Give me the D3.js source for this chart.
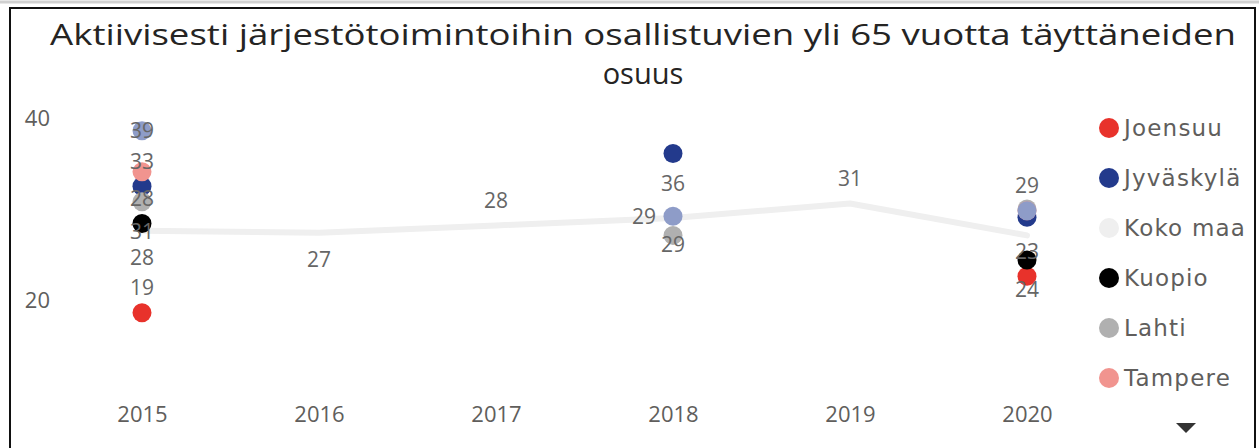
<!DOCTYPE html>
<html>
<head>
<meta charset="utf-8">
<script src="https://cdn.jsdelivr.net/npm/d3@7"></script>
<style>
  html, body { margin: 0; padding: 0; background: #fff; }
  svg { display: block; }
</style>
</head>
<body>
<div id="chart"></div>
<script>
const years = [2015, 2016, 2017, 2018, 2019, 2020]
const yTicks = [20, 40]

// series in legend order; the last one sits behind the legend scroll arrow
const seriesNames = ['Joensuu', 'Jyväskylä', 'Koko maa', 'Kuopio', 'Lahti', 'Tampere', 'Muu']
const seriesColors = ['#E8322B', '#233A8C', '#EFEFEF', '#000000', '#B0B0B0', '#F1948F', '#8E9CC8']
const legendNames = seriesNames.slice(0, 6)

// [year, value] per series
const joensuu = [[2015, 18.6], [2020, 22.6]]
const jyvaskyla = [[2015, 32.5], [2018, 36.1], [2020, 29.1]]
const kokoMaa = [[2015, 27.6], [2016, 27.4], [2017, 28.2], [2018, 29.0], [2019, 30.6], [2020, 27.1]]
const kuopio = [[2015, 28.4], [2020, 24.4]]
const lahti = [[2015, 30.8], [2018, 27.1], [2020, 30.0]]
const tampere = [[2015, 34.1], [2020, 29.8]]
const muu = [[2015, 38.6], [2018, 29.2], [2020, 29.8]]
const seriesValues = [joensuu, jyvaskyla, kokoMaa, kuopio, lahti, tampere, muu]

// visible data labels: series, year, text, where it sits
const dataLabels = [
  ['Muu', 2015, '39', 'on'],
  ['Jyväskylä', 2015, '33', 'above'],
  ['Kuopio', 2015, '28', 'above'],
  ['Lahti', 2015, '31', 'below'],
  ['Koko maa', 2015, '28', 'belowLine'],
  ['Joensuu', 2015, '19', 'above'],
  ['Koko maa', 2016, '27', 'belowLine'],
  ['Koko maa', 2017, '28', 'above'],
  ['Jyväskylä', 2018, '36', 'below'],
  ['Muu', 2018, '29', 'left'],
  ['Koko maa', 2018, '29', 'belowLine'],
  ['Koko maa', 2019, '31', 'above'],
  ['Muu', 2020, '29', 'above'],
  ['Joensuu', 2020, '23', 'above'],
  ['Kuopio', 2020, '24', 'below']
]

const title = ['Aktiivisesti järjestötoimintoihin osallistuvien yli 65 vuotta täyttäneiden', 'osuus']

const W = 1259, H = 448
const labelFont = '"Open Sans", sans-serif'

const svg = d3.select('#chart').append('svg').attr('width', W).attr('height', H)

// frame
svg.append('line').attr('x1', 0).attr('x2', W).attr('y1', 2).attr('y2', 2).attr('stroke', '#d0d0d0').attr('stroke-width', 3)
svg.append('rect').attr('x', 10).attr('y', 8).attr('width', 1245).attr('height', 500)
  .attr('fill', 'none').attr('stroke', '#111').attr('stroke-width', 2)

// title
svg.append('g').selectAll('text').data(title).join('text')
  .attr('x', 643).attr('y', (d, i) => 45 + i * 39)
  .attr('text-anchor', 'middle')
  .attr('font-family', labelFont).attr('font-size', 29)
  .attr('fill', '#252423')
  .attr('textLength', (d, i) => i === 0 ? 1186 : null)
  .attr('lengthAdjust', 'spacingAndGlyphs')
  .text(d => d)

const x = d3.scalePoint().domain(years).range([142, 1027])
const y = d3.scaleLinear().domain([20, 40]).range([300, 118])
const color = d3.scaleOrdinal().domain(seriesNames).range(seriesColors)
const valueOf = (name, yr) => seriesValues[seriesNames.indexOf(name)].find(d => d[0] === yr)[1]

// axes (labels only)
const yAxis = svg.append('g').attr('transform', 'translate(50,0)')
  .call(d3.axisLeft(y).tickValues(yTicks).tickSize(0).tickPadding(0))
yAxis.select('.domain').remove()
yAxis.selectAll('text').attr('font-family', labelFont).attr('font-size', 22).attr('fill', '#605E5C')

const xAxis = svg.append('g').attr('transform', 'translate(0,406)')
  .call(d3.axisBottom(x).tickFormat(d3.format('d')).tickSize(0).tickPadding(0))
xAxis.select('.domain').remove()
xAxis.selectAll('text').attr('font-family', labelFont).attr('font-size', 22).attr('fill', '#605E5C')

// Koko maa line
const line = d3.line().x(d => x(d[0])).y(d => y(d[1]))
svg.append('path').datum(kokoMaa)
  .attr('d', line).attr('fill', 'none')
  .attr('stroke', color('Koko maa')).attr('stroke-width', 6)
  .attr('stroke-linejoin', 'round').attr('stroke-linecap', 'round')

// dots for the other series
seriesNames.forEach((name, i) => {
  if (name === 'Koko maa') return
  svg.append('g').selectAll('circle').data(seriesValues[i]).join('circle')
    .attr('cx', d => x(d[0])).attr('cy', d => y(d[1])).attr('r', 9.5)
    .attr('fill', color(name))
})

// data labels
const offsets = { on: [0, 0], above: [0, -25], below: [0, 30], belowLine: [0, 27], left: [-17, 0] }
svg.append('g').selectAll('text').data(dataLabels).join('text')
  .attr('x', d => x(d[1]) + offsets[d[3]][0])
  .attr('y', d => y(valueOf(d[0], d[1])) + offsets[d[3]][1])
  .attr('dy', '0.35em')
  .attr('text-anchor', d => d[3] === 'left' ? 'end' : 'middle')
  .attr('font-family', labelFont).attr('font-size', 21)
  .attr('fill', '#666')
  .text(d => d[2])

// legend
const legend = svg.append('g').selectAll('g').data(legendNames).join('g')
  .attr('transform', (d, i) => `translate(1109,${128 + i * 50})`)
legend.append('circle').attr('r', 10).attr('fill', d => color(d))
legend.append('text').attr('x', 15).attr('dy', '0.35em')
  .attr('font-family', '"DejaVu Sans", Verdana, sans-serif').attr('font-size', 23)
  .attr('letter-spacing', 1.2)
  .attr('fill', '#605E5C')
  .text(d => d)

// legend scroll arrow
svg.append('path').attr('d', d3.line()([[1176, 423], [1196, 423], [1186, 433]])).attr('fill', '#333')
</script>
</body>
</html>
